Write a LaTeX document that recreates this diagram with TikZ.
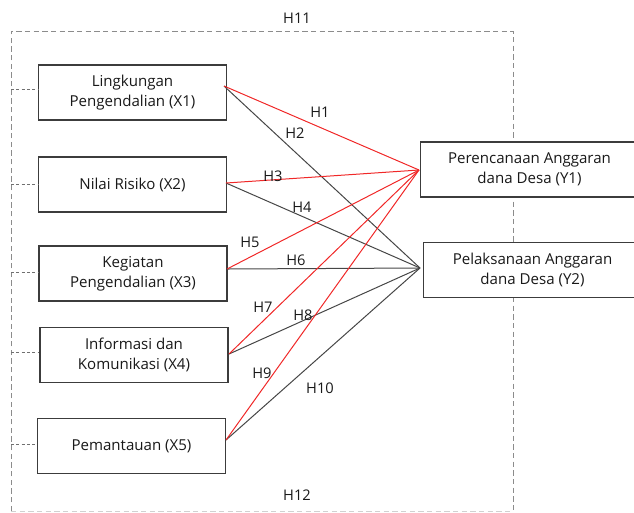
\documentclass[tikz,border=0pt]{standalone}
\usepackage{fontspec}
\setmainfont{Open Sans}
\definecolor{linered}{RGB}{240,40,40}
\definecolor{linegray}{RGB}{70,70,70}
\definecolor{boxgray}{RGB}{60,60,60}
\definecolor{dashgray}{RGB}{140,140,140}
\tikzset{
  varbox/.style={draw=boxgray, fill=white, line width=1pt, align=center, inner sep=0pt,
    font=\fontsize{11.3pt}{15pt}\selectfont, text=black!90},
  xbox/.style={varbox, minimum width=141pt, minimum height=41.25pt},
  ybox/.style={varbox, minimum width=164pt, minimum height=41.25pt},
  hlab/.style={font=\fontsize{11pt}{12pt}\selectfont, text=black!90, inner sep=0pt},
  redline/.style={draw=linered, line width=0.75pt},
  grayline/.style={draw=linegray, line width=0.75pt},
  outerdash/.style={draw=dashgray, line width=0.75pt, dash pattern=on 4pt off 2.5pt},
  stubdash/.style={draw=dashgray!80!black, line width=0.75pt, dash pattern=on 2.2pt off 1.8pt},
}
\begin{document}
\begin{tikzpicture}[x=0.75pt,y=-0.75pt]
\useasboundingbox (0,0) rectangle (634,512);
% outer dashed frame
\draw[outerdash] (11,511) -- (11,31) -- (513,31) -- (513,511);
\draw[draw=dashgray!40, line width=0.5pt, dash pattern=on 4pt off 2.5pt] (11,511) -- (513,511);
% nodes
\node[xbox] (x1) at (132.5,92.5) {Lingkungan\\Pengendalian (X1)};
\node[xbox] (x2) at (132.5,184.5) {Nilai Risiko (X2)};
\node[xbox] (x3) at (133,273.5) {Kegiatan\\Pengendalian (X3)};
\node[xbox] (x4) at (134,355) {Informasi dan\\Komunikasi (X4)};
\node[xbox] (x5) at (131.5,446) {Pemantauan (X5)};
\node[ybox] (y1) at (529.5,169.5) {Perencanaan Anggaran\\dana Desa (Y1)};
\node[ybox] (y2) at (532.5,270) {Pelaksanaan Anggaran\\dana Desa (Y2)};
% dashed stubs
\coordinate (s1) at (11,89); \coordinate (s2) at (11,184);
\coordinate (s3) at (11,272); \coordinate (s4) at (11,352);
\coordinate (s5) at (11,444);
\draw[stubdash] (s1) -- (s1 -| x1.west);
\draw[stubdash] (s2) -- (s2 -| x2.west);
\draw[stubdash] (s3) -- (s3 -| x3.west);
\draw[stubdash] (s4) -- (s4 -| x4.west);
\draw[stubdash] (s5) -- (s5 -| x5.west);
% connector origins and targets
\coordinate (o1) at (224,86);
\coordinate (o2) at (226,183);
\coordinate (o3) at (227,269);
\coordinate (o4) at (229,354);
\coordinate (o5) at (226,440);
\coordinate (t1) at (419,170);
\coordinate (t2) at (420,268);
% black lines
\draw[grayline] (o1) -- (t2);
\draw[grayline] (o2) -- (t2);
\draw[grayline] (o3) -- (t2);
\draw[grayline] (o4) -- (t2);
\draw[grayline] (o5) -- (t2);
% red lines
\draw[redline] (o1) -- (t1);
\draw[redline] (o2) -- (t1);
\draw[redline] (o3) -- (t1);
\draw[redline] (o4) -- (t1);
\draw[redline] (o5) -- (t1);
% labels
\node[hlab] (h1) at (320,112) {H1};
\node[hlab] (h2) at (295,133) {H2};
\node[hlab] (h3) at (273,176) {H3};
\node[hlab] (h4) at (302,207) {H4};
\node[hlab] (h5) at (250,242) {H5};
\node[hlab] (h6) at (296,260) {H6};
\node[hlab] (h7) at (263,307) {H7};
\node[hlab] (h8) at (303,315) {H8};
\node[hlab] (h9) at (262,373) {H9};
\node[hlab] (h10) at (320,388) {H10};
\node[hlab] (h11) at (297,18) {H11};
\node[hlab] (h12) at (297,495) {H12};
\end{tikzpicture}
\end{document}
